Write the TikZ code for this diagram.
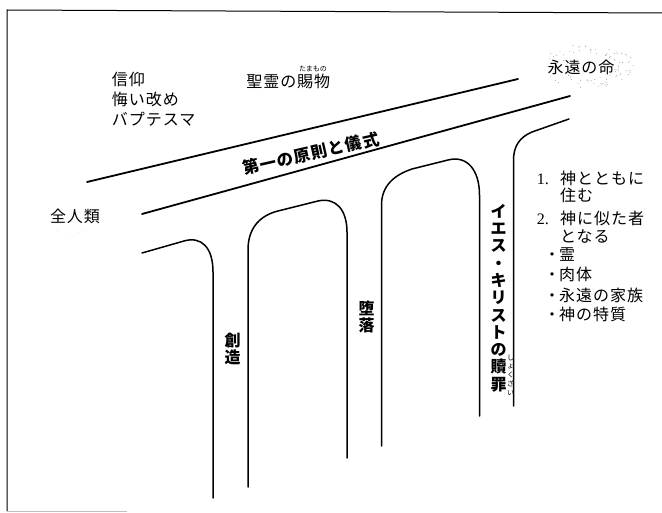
\documentclass[tikz,border=0pt]{standalone}
\usepackage{fontspec}
\setmainfont{Liberation Serif}
\newfontfamily\jp{Noto Sans CJK JP}
\newfontfamily\jpm[LetterSpace=6]{Noto Sans CJK JP}
\begin{document}
\begin{tikzpicture}[x=1pt,y=-1pt,
  wall/.style={line width=1.5pt, line cap=round, line join=round},
  band/.style={line width=1.8pt, line cap=round},
  mtext/.style={font=\jpm\fontsize{16}{20}\selectfont, inner sep=0pt},
  gtext/.style={font=\jp\bfseries\fontsize{16}{17.3}\selectfont, inner sep=0pt, align=center},
  ruby/.style={font=\jp\fontsize{7}{8.8}\selectfont, inner sep=0pt, align=center},
  speck/.style={fill=black!45}]
\useasboundingbox (0,0) rectangle (662,513);
% frame
\draw[line width=1pt] (7,511) -- (7,10) -- (662,13);
\draw[black!25, line width=0.8pt] (7,511.5) -- (127,511.5);
% band lines
\draw[band] (87,182) -- (518,79);
\draw[band] (142,214) -- (570,96);
% lower wall and arches
\draw[wall] (142,253) -- (184,241) .. controls (201,236) and (213,247) .. (213,272) -- (213,498);
\draw[wall] (248,487) -- (248,250) .. controls (248,226) and (262,215) .. (278,211) -- (318,201) .. controls (336,197) and (347,210) .. (347,232) -- (347,458);
\draw[wall] (381.5,446) -- (381.5,205) .. controls (381.5,186) and (394,175) .. (412,169) -- (448,160) .. controls (467,155) and (479.5,170) .. (479.5,195) -- (479.5,416);
\draw[wall] (513.5,406) -- (513.5,160) .. controls (513.5,146) and (520,137) .. (532,132) -- (569,119);
% speckles
\pgfmathsetseed{7}
\foreach \i in {1,...,90} {
  \pgfmathsetmacro{\ang}{rand*180}
  \pgfmathsetmacro{\rr}{0.6+0.45*rnd}
  \fill[speck] ({588+44*\rr*cos(\ang)},{66+21*\rr*sin(\ang)}) circle (0.45pt);
}
\foreach \px/\py in {57/231, 66/234, 74/236, 78/233, 85/231, 90/232} {
  \fill[black!30] (\px,\py) circle (0.45pt);
}
% texts
\node[mtext, anchor=base west] (faith) at (111.7,85.5) {信仰};
\node[mtext, anchor=base west] (repent) at (111.7,105.5) {悔い改め};
\node[mtext, anchor=base west] (bapt) at (111.7,125.5) {バプテスマ};
\node[mtext] (gift) at (288.3,81.7) {聖霊の賜物};
\node[ruby] (giftruby) at (313,69) {たまもの};
\node[mtext] (life) at (581,67) {永遠の命};
\node[mtext] (mankind) at (75,216) {全人類};
\node[inner sep=0pt, font=\jpm\bfseries\fontsize{16.5}{17}\selectfont, rotate=12.7] (first) at (311,153.5) {第一の原則と儀式};
\node[gtext] (create) at (232.5,349) {創\\造};
\node[gtext] (fall) at (366.7,316.7) {堕\\落};
\node[gtext] (atone) at (498.5,298) {イ\\エ\\ス\\・\\キ\\リ\\ス\\ト\\の\\贖\\罪};
\node[ruby] (atoneruby) at (510.5,375) {し\\ょ\\く\\ざ\\い};
% list
\node[mtext, anchor=base west] (l1) at (536.7,184.4) {\makebox[23.3pt][l]{\rmfamily 1.}神とともに};
\node[mtext, anchor=base west] (l2) at (560,202) {住む};
\node[mtext, anchor=base west] (l3) at (536.7,224.4) {\makebox[23.3pt][l]{\rmfamily 2.}神に似た者};
\node[mtext, anchor=base west] (l4) at (560,242.8) {となる};
\node[mtext, anchor=base west] (l5) at (545,260.1) {\makebox[14pt][c]{・}霊};
\node[mtext, anchor=base west] (l6) at (545,280.1) {\makebox[14pt][c]{・}肉体};
\node[mtext, anchor=base west] (l7) at (545,301.1) {\makebox[14pt][c]{・}永遠の家族};
\node[mtext, anchor=base west] (l8) at (545,320.1) {\makebox[14pt][c]{・}神の特質};
\end{tikzpicture}
\end{document}
